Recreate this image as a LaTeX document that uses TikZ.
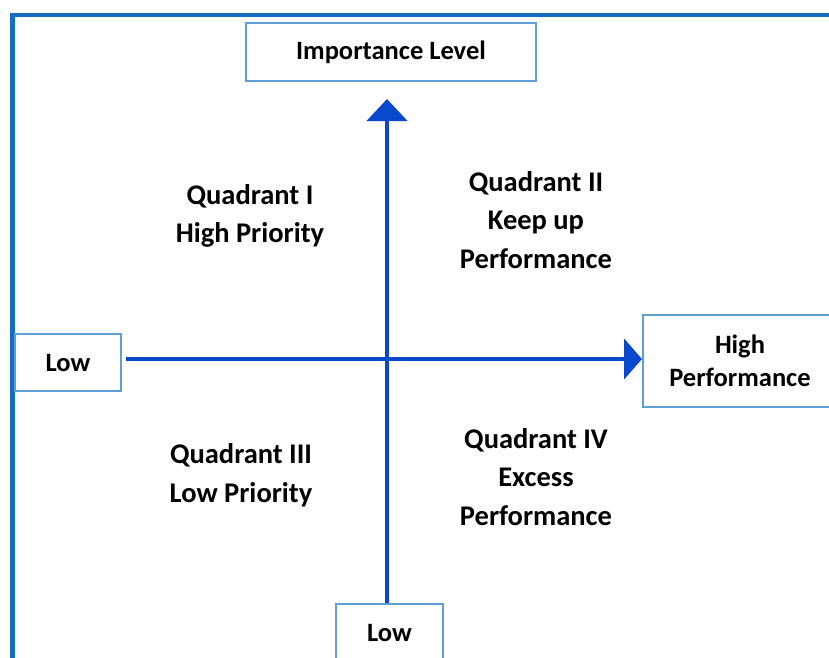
\documentclass[tikz,border=0pt]{standalone}
\usepackage{fontspec}
\setmainfont{Carlito}
\usetikzlibrary{arrows.meta}
\definecolor{framecol}{RGB}{20,110,196}
\definecolor{axiscol}{RGB}{8,72,204}
\definecolor{boxcol}{RGB}{96,158,214}
\tikzset{
  label box/.style={draw=boxcol, line width=2pt, rectangle, inner sep=0pt,
    align=center, font=\fontsize{26.5}{33}\selectfont\bfseries},
  quad text/.style={align=center, inner sep=0pt,
    font=\fontsize{28.5}{38.5}\selectfont\bfseries},
  axis line/.style={draw=axiscol, line width=4.5pt},
}
\begin{document}
\begin{tikzpicture}[x=1pt, y=-1pt]
  \useasboundingbox (0,0) rectangle (829,657);
  \clip (0,0) rectangle (829,657);

  % outer frame, running off the right and bottom edges
  \draw[framecol, line width=4.5pt] (12.5,700) -- (12.5,15) -- (900,15);

  % axis labels
  \node[label box, minimum width=290pt, minimum height=58pt] (imp) at (391,52) {Importance Level};
  \node[label box, minimum width=106pt, minimum height=57pt] (lowleft) at (68,362.5) {Low};
  \node[label box, minimum width=194pt, minimum height=92pt] (high) at (740,361) {High\\Performance};
  \node[label box, minimum width=107pt, minimum height=58pt] (lowbot) at (389.5,633) {Low};

  % crossing point of the two axes
  \coordinate (o) at (387,359);

  % axes
  \draw[axis line, -{Triangle[width=40pt,length=22pt]}, shorten >=17pt]
    (lowbot.north -| o) -- (imp.south -| o);
  \draw[axis line, -{Triangle[width=40pt,length=18pt]}, shorten <=4pt]
    (lowleft.east |- o) -- (high.west |- o);

  % quadrant descriptions
  \node[quad text] (q1) at (250,216) {Quadrant I\\High Priority};
  \node[quad text] (q2) at (536,220) {Quadrant II\\Keep up\\Performance};
  \node[quad text] (q3) at (241,475) {Quadrant III\\Low Priority};
  \node[quad text] (q4) at (536,477) {Quadrant IV\\Excess\\Performance};
\end{tikzpicture}
\end{document}
